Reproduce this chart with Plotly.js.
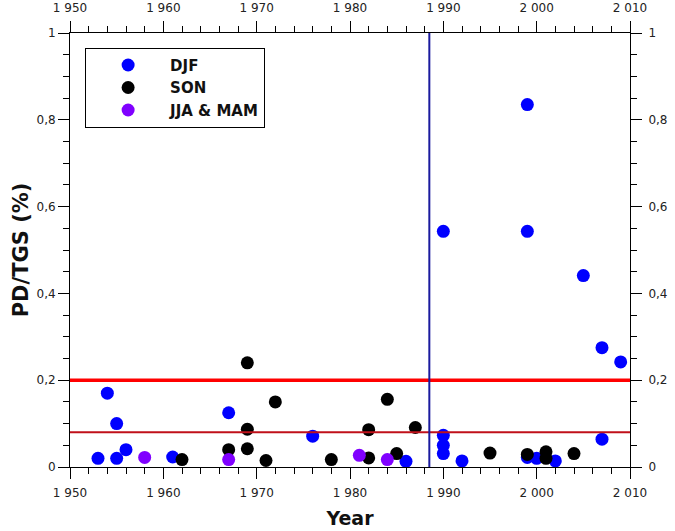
<!DOCTYPE html>
<html>
<head>
<meta charset="utf-8">
<script src="https://cdn.plot.ly/plotly-3.0.1.min.js"></script>
<style>html,body{margin:0;padding:0;background:#fff;}#chart{width:675px;height:531px;}</style>
</head>
<body>
<div id="chart"></div>
<script>
// Data
var seriesNames = ["DJF", "SON", "JJA & MAM"];
var djfYear  = [1953, 1954, 1955, 1955, 1956, 1961, 1967, 1976, 1986, 1990, 1990, 1990, 1990, 1992, 1999, 1999, 1999, 2000, 2002, 2005, 2007, 2007, 2009];
var djfValue = [0.020, 0.170, 0.100, 0.020, 0.040, 0.023, 0.125, 0.071, 0.013, 0.543, 0.073, 0.050, 0.031, 0.014, 0.835, 0.543, 0.022, 0.020, 0.014, 0.441, 0.275, 0.064, 0.242];
var sonYear  = [1962, 1967, 1969, 1969, 1969, 1971, 1972, 1978, 1982, 1982, 1984, 1985, 1987, 1995, 1999, 2001, 2001, 2004];
var sonValue = [0.017, 0.040, 0.240, 0.087, 0.042, 0.015, 0.150, 0.017, 0.086, 0.021, 0.156, 0.031, 0.091, 0.032, 0.029, 0.035, 0.020, 0.031];
var jjaYear  = [1958, 1967, 1981, 1984];
var jjaValue = [0.022, 0.017, 0.027, 0.017];
var thresholdHigh = 0.2;
var thresholdLow = 0.08;
var breakYear = 1988.5;
var xTickVals = [1950, 1960, 1970, 1980, 1990, 2000, 2010];
var yTickVals = [0, 0.2, 0.4, 0.6, 0.8, 1];

var seriesColors = ["#0000ff", "#000000", "#8000ff"];
var tickFont = {family: "DejaVu Sans", size: 12, color: "#222"};

function pts(x, y, name, color) {
  return {type: "scatter", mode: "markers", x: x, y: y, name: name,
    marker: {color: color, size: 13, line: {width: 0}}, xaxis: "x", yaxis: "y"};
}

var data = [
  pts(djfYear, djfValue, seriesNames[0], seriesColors[0]),
  pts(sonYear, sonValue, seriesNames[1], seriesColors[1]),
  pts(jjaYear, jjaValue, seriesNames[2], seriesColors[2]),
  {type: "scatter", mode: "markers", x: [xTickVals[0]], y: [yTickVals[0]], xaxis: "x2", yaxis: "y2",
   marker: {opacity: 0}, showlegend: false, hoverinfo: "skip"}
];

var axisCommon = {
  showgrid: false, zeroline: false, showline: true, linecolor: "#000", linewidth: 1,
  ticks: "outside", ticklen: 11, tickwidth: 1, tickcolor: "#000", tickfont: tickFont
};

var layout = {
  width: 675, height: 531,
  margin: {l: 70, r: 45, t: 33, b: 64},
  paper_bgcolor: "#fff", plot_bgcolor: "#fff",
  separators: ", ",
  showlegend: true,
  legend: {x: 0.027, y: 0.966, xanchor: "left", yanchor: "top",
    bordercolor: "#000", borderwidth: 1, bgcolor: "#fff",
    font: {family: "DejaVu Sans", size: 15, color: "#111", weight: "bold"},
    itemwidth: 74},
  xaxis: Object.assign({}, axisCommon, {range: [1950, 2010], tickvals: xTickVals, separatethousands: true,
    ticklabelstandoff: 4,
    minor: {dtick: 2, tick0: 1950, ticks: "outside", ticklen: 6, tickcolor: "#000", tickwidth: 1},
    title: {text: "Year", font: {family: "DejaVu Sans", size: 19, color: "#111", weight: "bold"}, standoff: 12}}),
  xaxis2: Object.assign({}, axisCommon, {range: [1950, 2010], tickvals: xTickVals, separatethousands: true,
    overlaying: "x", side: "top", matches: "x", ticklabelstandoff: 4,
    minor: {dtick: 2, tick0: 1950, ticks: "outside", ticklen: 6, tickcolor: "#000", tickwidth: 1}}),
  yaxis: Object.assign({}, axisCommon, {range: [0, 1], tickvals: yTickVals,
    minor: {dtick: 0.05, tick0: 0, ticks: "outside", ticklen: 6, tickcolor: "#000", tickwidth: 1},
    title: {text: "PD/TGS (%)", font: {family: "DejaVu Sans", size: 21, color: "#111", weight: "bold"}, standoff: 2}}),
  yaxis2: Object.assign({}, axisCommon, {range: [0, 1], tickvals: yTickVals,
    overlaying: "y", side: "right", matches: "y", ticklabelstandoff: 4,
    minor: {dtick: 0.05, tick0: 0, ticks: "outside", ticklen: 6, tickcolor: "#000", tickwidth: 1}}),
  shapes: [
    {type: "line", xref: "paper", yref: "y", x0: 0, x1: 1, y0: thresholdHigh, y1: thresholdHigh,
     line: {color: "#ff0000", width: 3.5}, layer: "above"},
    {type: "line", xref: "paper", yref: "y", x0: 0, x1: 1, y0: thresholdLow, y1: thresholdLow,
     line: {color: "#c0101a", width: 2}, layer: "above"},
    {type: "line", xref: "x", yref: "paper", x0: breakYear, x1: breakYear, y0: 0, y1: 1,
     line: {color: "#1a1a9e", width: 2}, layer: "above"}
  ]
};

Plotly.newPlot("chart", data, layout, {displayModeBar: false, staticPlot: true});
</script>
</body>
</html>
